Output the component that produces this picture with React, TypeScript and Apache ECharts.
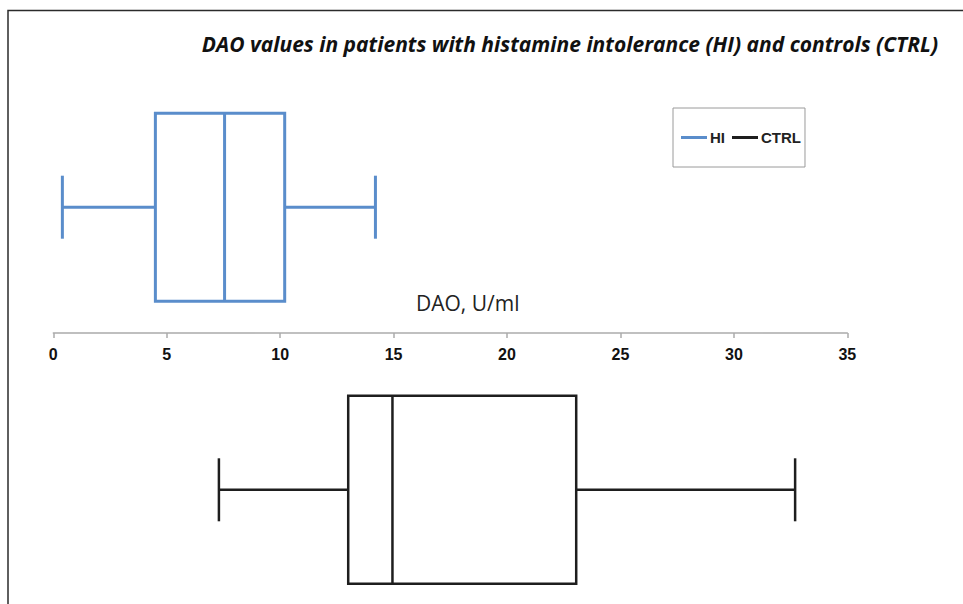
import React, { useEffect, useRef } from "react";
import * as echarts from "echarts";

const groups = ["HI", "CTRL"];
// [min, Q1, median, Q3, max]
const hiValues = [0.4, 4.5, 7.55, 10.2, 14.2];
const ctrlValues = [7.3, 13.0, 14.95, 23.05, 32.7];
const xTicks = [0, 5, 10, 15, 20, 25, 30, 35];
const colors = { HI: "#5a8dcb", CTRL: "#1e1e1e" };
const titleText = "DAO values in patients with histamine intolerance (HI) and controls (CTRL)";
const axisTitle = "DAO, U/ml";

function makeRender(stroke: string, lineWidth: number) {
  return (params: any, api: any) => {
    const cat = api.value(0);
    const lo = api.coord([api.value(1), cat]);
    const q1 = api.coord([api.value(2), cat]);
    const md = api.coord([api.value(3), cat]);
    const q3 = api.coord([api.value(4), cat]);
    const hi = api.coord([api.value(5), cat]);
    const c = md[1];
    const hb = 94;
    const hc = 31.5;
    const style = { stroke, lineWidth, fill: "none", lineCap: "butt" };
    return {
      type: "group",
      children: [
        { type: "rect", shape: { x: q1[0], y: c - hb, width: q3[0] - q1[0], height: hb * 2 }, style },
        { type: "line", shape: { x1: md[0], y1: c - hb, x2: md[0], y2: c + hb }, style },
        { type: "line", shape: { x1: lo[0], y1: c, x2: q1[0], y2: c }, style },
        { type: "line", shape: { x1: q3[0], y1: c, x2: hi[0], y2: c }, style },
        { type: "line", shape: { x1: lo[0], y1: c - hc, x2: lo[0], y2: c + hc }, style },
        { type: "line", shape: { x1: hi[0], y1: c - hc, x2: hi[0], y2: c + hc }, style },
      ],
    };
  };
}

export default function App() {
  const ref = useRef<HTMLDivElement>(null);
  useEffect(() => {
    if (!ref.current) return;
    const chart = echarts.init(ref.current, null, { renderer: "svg" });
    const xMin = xTicks[0];
    const xMax = xTicks[xTicks.length - 1];
    const interval = xTicks[1] - xTicks[0];
    chart.setOption({
      animation: false,
      backgroundColor: "#ffffff",
      title: [
        {
          text: titleText,
          right: 25,
          top: 33,
          padding: 0,
          textStyle: {
            fontFamily: "Open Sans",
            fontStyle: "italic",
            fontWeight: "bold",
            fontSize: 21,
            color: "#111",
          },
        },
        {
          text: axisTitle,
          left: 416,
          top: 292,
          padding: 0,
          textStyle: {
            fontFamily: "Open Sans",
            fontWeight: "normal",
            fontSize: 21,
            color: "#222",
          },
        },
      ],
      legend: {
        left: 673,
        top: 108,
        orient: "horizontal",
        padding: [22, 4, 22, 8],
        itemGap: 7,
        itemWidth: 26,
        itemHeight: 3,
        borderColor: "#9a9a9a",
        borderWidth: 1,
        textStyle: {
          fontFamily: "Liberation Sans",
          fontWeight: "bold",
          fontSize: 15,
          color: "#222",
          padding: [0, 0, 0, -2],
        },
        data: [
          { name: groups[0], icon: "rect", itemStyle: { color: colors.HI } },
          { name: groups[1], icon: "rect", itemStyle: { color: colors.CTRL } },
        ],
      },
      grid: [
        { left: 53.3, right: 115.7, top: 81.4, height: 251.6 },
        { left: 53.3, right: 115.7, top: 375.6, height: 228.4 },
      ],
      xAxis: [
        {
          type: "value",
          gridIndex: 0,
          min: xMin,
          max: xMax,
          interval,
          position: "bottom",
          splitLine: { show: false },
          axisLine: { show: true, lineStyle: { color: "#ababab", width: 1.5 } },
          axisTick: { show: true, length: 5, lineStyle: { color: "#ababab", width: 1.5 } },
          axisLabel: {
            margin: 13,
            fontFamily: "Liberation Sans",
            fontWeight: "bold",
            fontSize: 16,
            color: "#111",
          },
        },
        {
          type: "value",
          gridIndex: 1,
          min: xMin,
          max: xMax,
          interval,
          show: false,
          splitLine: { show: false },
        },
      ],
      yAxis: [
        { type: "category", gridIndex: 0, data: [groups[0]], show: false },
        { type: "category", gridIndex: 1, data: [groups[1]], show: false },
      ],
      series: [
        {
          name: groups[0],
          type: "custom",
          xAxisIndex: 0,
          yAxisIndex: 0,
          itemStyle: { color: colors.HI },
          encode: { x: [1, 2, 3, 4, 5], y: 0 },
          renderItem: makeRender(colors.HI, 3),
          data: [[0, ...hiValues]],
        },
        {
          name: groups[1],
          type: "custom",
          xAxisIndex: 1,
          yAxisIndex: 1,
          itemStyle: { color: colors.CTRL },
          encode: { x: [1, 2, 3, 4, 5], y: 0 },
          renderItem: makeRender(colors.CTRL, 2.5),
          data: [[0, ...ctrlValues]],
        },
      ],
      graphic: [
        {
          type: "polyline",
          silent: true,
          shape: { points: [[8, 604], [8, 10.5], [963, 10.5]] },
          style: { stroke: "#2b2b2b", lineWidth: 1.5, fill: "none" },
        },
      ],
    });
    return () => chart.dispose();
  }, []);
  return (
    <div
      ref={ref}
      style={{ position: "fixed", left: 0, top: 0, width: 963, height: 604 }}
    />
  );
}
